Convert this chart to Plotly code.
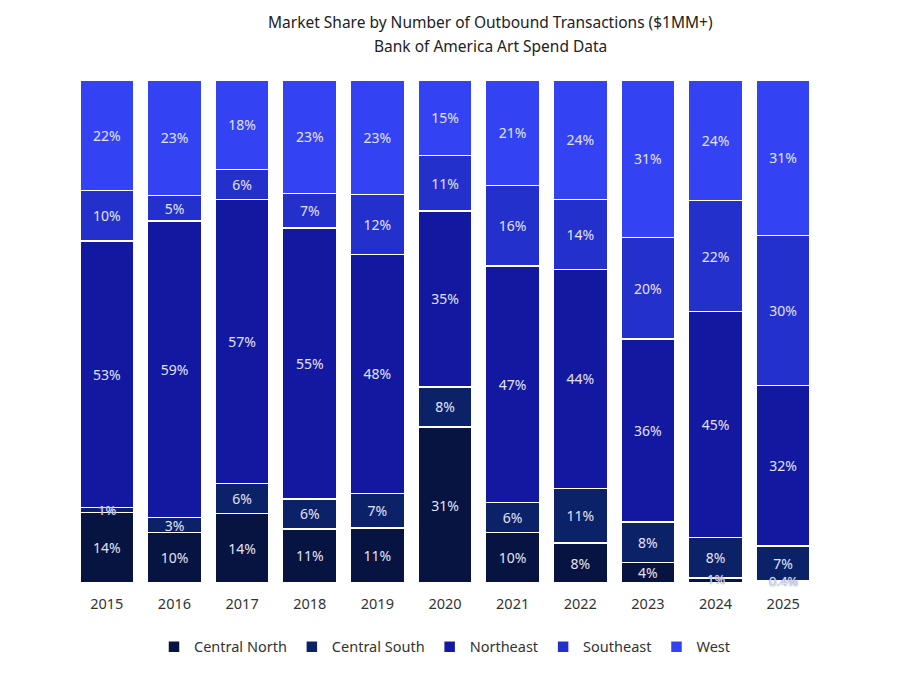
import plotly.graph_objects as go

years = ["2015", "2016", "2017", "2018", "2019", "2020", "2021", "2022", "2023", "2024", "2025"]
central_north = [14, 10, 14, 11, 11, 31, 10, 8, 4, 1, 0.4]
central_south = [1, 3, 6, 6, 7, 8, 6, 11, 8, 8, 7]
northeast = [53, 59, 57, 55, 48, 35, 47, 44, 36, 45, 32]
southeast = [10, 5, 6, 7, 12, 11, 16, 14, 20, 22, 30]
west = [22, 23, 18, 23, 23, 15, 21, 24, 31, 24, 31]

series = [
    ("Central North", central_north, "#071441"),
    ("Central South", central_south, "#0c2268"),
    ("Northeast", northeast, "#1318a0"),
    ("Southeast", southeast, "#2430cc"),
    ("West", west, "#3342f2"),
]

FONT = "Noto Sans"
TXT = "#e2e2f6"
SMALL = 2  # segments below this get their label as an annotation (no shrinking)

totals = [sum(s[1][i] for s in series) for i in range(len(years))]

fig = go.Figure()
annotations = []
base = [0.0] * len(years)
for name, vals, color in series:
    labels = []
    for i, v in enumerate(vals):
        if v < SMALL:
            labels.append("")
            mid = (base[i] + v / 2) / totals[i] * 100
            annotations.append(dict(
                text=f"{v:g}%", x=i, y=mid, xref="x", yref="y",
                showarrow=False, xanchor="center", yanchor="middle",
                yshift=1 if mid < 1 else 0,
                font=dict(family=FONT, size=13, color=TXT,
                          shadow="0px 0px 1.5px #555a80")))
        else:
            labels.append(f"{v:g}%")
        base[i] += v
    fig.add_trace(go.Bar(
        name=name,
        x=years,
        y=vals,
        text=labels,
        texttemplate="%{text}",
        textposition="inside",
        insidetextanchor="middle",
        constraintext="none",
        textfont=dict(family=FONT, size=14, color=TXT),
        marker=dict(color=color, line=dict(color="#ffffff", width=1.5)),
        hovertemplate="%{x} " + name + ": %{y:.1f}%<extra></extra>",
    ))

annotations += [
    dict(text="Market Share by Number of Outbound Transactions ($1MM+)",
         x=0.5605, y=1.115, xref="paper", yref="paper",
         xanchor="center", yanchor="middle", showarrow=False,
         font=dict(family=FONT, size=15.5, color="#222222")),
    dict(text="Bank of America Art Spend Data",
         x=0.5605, y=1.0676, xref="paper", yref="paper",
         xanchor="center", yanchor="middle", showarrow=False,
         font=dict(family=FONT, size=15.5, color="#222222")),
]

fig.update_layout(
    barmode="stack",
    barnorm="percent",
    bargap=0.2,
    width=900,
    height=675,
    margin=dict(l=73, r=83, t=80, b=92),
    paper_bgcolor="white",
    plot_bgcolor="white",
    font=dict(family=FONT, size=14, color="#333333"),
    showlegend=True,
    legend=dict(
        orientation="h",
        traceorder="normal",
        x=0.5, xanchor="center",
        y=-0.095, yanchor="top",
        font=dict(family=FONT, size=14.5, color="#333333"),
    ),
    xaxis=dict(
        type="category",
        range=[-0.5, len(years) - 0.5],
        showgrid=False, showline=False, zeroline=False,
        tickfont=dict(family=FONT, size=14.5, color="#333333"),
        ticks="", ticklabelstandoff=10,
    ),
    yaxis=dict(
        range=[0, 100], visible=False, showgrid=False, zeroline=False,
    ),
    annotations=annotations,
)

fig.write_html("out.html")
